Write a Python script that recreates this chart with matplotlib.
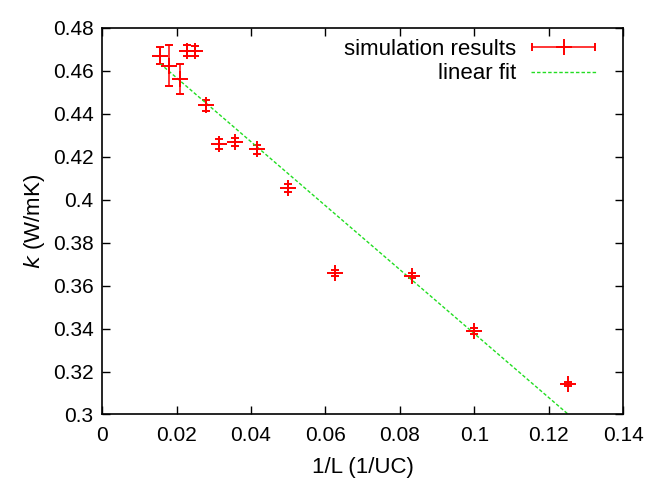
import matplotlib
matplotlib.use("Agg")
import matplotlib.pyplot as plt
from matplotlib.legend_handler import HandlerErrorbar
import numpy as np

plt.rcParams['font.family'] = ['Liberation Sans', 'DejaVu Sans']

# 1/L values and thermal conductivity with error bars
inv_L = [0.0156, 0.0179, 0.0208, 0.0227, 0.025, 0.0278, 0.0313, 0.0357,
         0.0417, 0.05, 0.0625, 0.0833, 0.1, 0.125]
k = [0.4671, 0.4625, 0.4561, 0.4694, 0.4694, 0.4440, 0.4260, 0.4268,
     0.4235, 0.4054, 0.3659, 0.3646, 0.3389, 0.3142]
k_err = [0.0039, 0.0097, 0.0070, 0.0026, 0.0024, 0.0026, 0.0022, 0.0020,
         0.0020, 0.0018, 0.0015, 0.0012, 0.0012, 0.0010]

# linear fit
fit_a = 0.4866
fit_b = -1.49
fit_x = np.array([inv_L[0], inv_L[-1]])

fig = plt.figure(figsize=(6.46, 4.79), dpi=100)
ax = fig.add_axes([0.158, 0.1347, 0.807, 0.807])

ax.errorbar(inv_L, k, yerr=k_err, fmt='+', color='red', ms=11, mew=1.4,
            elinewidth=1.1, capsize=2.8, capthick=1.1, label='_nolegend_')
fit_line, = ax.plot(fit_x, fit_a + fit_b * fit_x, color='#22dd22', lw=1,
                    ls=(0, (2.5, 1.5)), label='linear fit')

# dummy handle for the gnuplot-style legend sample
dummy = ax.errorbar([np.nan], [np.nan], xerr=[1], fmt='+', color='red', ms=11,
                    mew=1.4, elinewidth=1.1, capsize=2.8, capthick=1.1,
                    label='simulation results')

ax.set_xlim(0, 0.14)
ax.set_ylim(0.3, 0.48)
ax.set_xticks([0, 0.02, 0.04, 0.06, 0.08, 0.1, 0.12, 0.14])
ax.set_xticklabels(['0', '0.02', '0.04', '0.06', '0.08', '0.1', '0.12', '0.14'])
ax.set_yticks([0.3, 0.32, 0.34, 0.36, 0.38, 0.4, 0.42, 0.44, 0.46, 0.48])
ax.set_yticklabels(['0.3', '0.32', '0.34', '0.36', '0.38', '0.4', '0.42',
                    '0.44', '0.46', '0.48'])
ax.tick_params(direction='in', length=6, width=1, top=True, right=True,
               labelsize=15, pad=6)
ax.tick_params(axis='x', pad=8)
for s in ax.spines.values():
    s.set_linewidth(1.2)

ax.set_xlabel('1/L (1/UC)', fontsize=16, labelpad=9)
ax.set_ylabel(r'$k$ (W/mK)', fontsize=16, labelpad=4)

leg = ax.legend([dummy, fit_line], ['simulation results', 'linear fit'],
                handler_map={dummy: HandlerErrorbar(xerr_size=1.42)},
                loc='upper right', bbox_to_anchor=(0.964, 0.994),
                frameon=False, markerfirst=False,
                fontsize=16, handlelength=2.9, labelspacing=0.15,
                borderaxespad=0, handletextpad=0.68)

fig.savefig('out.png', dpi=100)
